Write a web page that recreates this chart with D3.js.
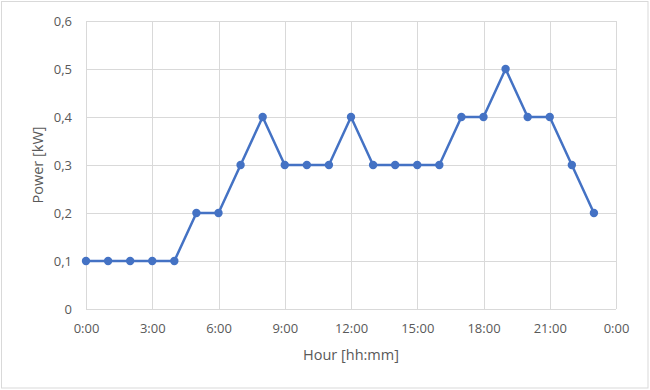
<!DOCTYPE html>
<html>
<head>
<meta charset="utf-8">
<script src="https://cdn.jsdelivr.net/npm/d3@7"></script>
<style>
  body { margin: 0; background: #fff; }
  text { font-family: "Open Sans", "Noto Sans", sans-serif; fill: #595959; }
</style>
</head>
<body>
<div id="chart"></div>
<script>
// hourly readings, 0:00 .. 23:00
var hours = [0, 1, 2, 3, 4, 5, 6, 7, 8, 9, 10, 11, 12, 13, 14, 15, 16, 17, 18, 19, 20, 21, 22, 23];
var power = [0.1, 0.1, 0.1, 0.1, 0.1, 0.2, 0.2, 0.3, 0.4, 0.3, 0.3, 0.3, 0.4, 0.3, 0.3, 0.3, 0.3, 0.4, 0.4, 0.5, 0.4, 0.4, 0.3, 0.2];
var xTicks = [0, 3, 6, 9, 12, 15, 18, 21, 24];
var xTickLabels = ['0:00', '3:00', '6:00', '9:00', '12:00', '15:00', '18:00', '21:00', '0:00'];
var yTicks = [0, 0.1, 0.2, 0.3, 0.4, 0.5, 0.6];
var yTickLabels = ['0', '0,1', '0,2', '0,3', '0,4', '0,5', '0,6'];

var width = 650, height = 390;
var margin = {top: 21, right: 34, bottom: 81, left: 86};

var svg = d3.select('#chart').append('svg')
    .attr('width', width)
    .attr('height', height);

// outer frame
svg.append('rect')
    .attr('x', 1.5).attr('y', 1.5)
    .attr('width', width - 3.5).attr('height', height - 3.5)
    .attr('fill', '#fff')
    .attr('stroke', '#d9d9d9');

var x = d3.scaleLinear().domain([0, 24]).range([margin.left, width - margin.right]);
var y = d3.scaleLinear().domain([0, 0.6]).range([height - margin.bottom, margin.top]);

// grid
svg.append('g').selectAll('line.v')
    .data(xTicks)
    .enter().append('line')
    .attr('x1', function(d) { return Math.round(x(d)) + 0.5; })
    .attr('x2', function(d) { return Math.round(x(d)) + 0.5; })
    .attr('y1', y(0.6)).attr('y2', y(0))
    .attr('stroke', '#d9d9d9');

svg.append('g').selectAll('line.h')
    .data(yTicks)
    .enter().append('line')
    .attr('x1', x(0)).attr('x2', x(24))
    .attr('y1', function(d) { return Math.round(y(d)) + 0.5; })
    .attr('y2', function(d) { return Math.round(y(d)) + 0.5; })
    .attr('stroke', '#d9d9d9');

// axes (labels only)
var xAxis = d3.axisBottom(x)
    .tickValues(xTicks)
    .tickSize(0)
    .tickPadding(15)
    .tickFormat(function(d, i) { return xTickLabels[i]; });

var yAxis = d3.axisLeft(y)
    .tickValues(yTicks)
    .tickSize(0)
    .tickPadding(14)
    .tickFormat(function(d, i) { return yTickLabels[i]; });

var gx = svg.append('g')
    .attr('transform', 'translate(0,' + y(0) + ')')
    .call(xAxis);
gx.select('.domain').remove();
gx.selectAll('text').style('font-size', '13px').attr('fill', '#595959');

var gy = svg.append('g')
    .attr('transform', 'translate(' + x(0) + ',0)')
    .call(yAxis);
gy.select('.domain').remove();
gy.selectAll('text').style('font-size', '13px').attr('fill', '#595959');

// axis titles
svg.append('text')
    .attr('x', (x(0) + x(24)) / 2)
    .attr('y', 360)
    .attr('text-anchor', 'middle')
    .style('font-size', '14.5px')
    .text('Hour [hh:mm]');

svg.append('text')
    .attr('transform', 'translate(43,' + ((y(0) + y(0.6)) / 2) + ') rotate(-90)')
    .attr('text-anchor', 'middle')
    .style('font-size', '14.5px')
    .text('Power [kW]');

// series
var line = d3.line()
    .x(function(d, i) { return x(hours[i]); })
    .y(function(d) { return y(d); });

svg.append('path')
    .datum(power)
    .attr('d', line)
    .attr('fill', 'none')
    .attr('stroke', '#4472c4')
    .attr('stroke-width', 2.5)
    .attr('stroke-linejoin', 'round');

svg.append('g').selectAll('circle')
    .data(power)
    .enter().append('circle')
    .attr('cx', function(d, i) { return x(hours[i]); })
    .attr('cy', function(d) { return y(d); })
    .attr('r', 4.2)
    .attr('fill', '#4472c4');
</script>
</body>
</html>
